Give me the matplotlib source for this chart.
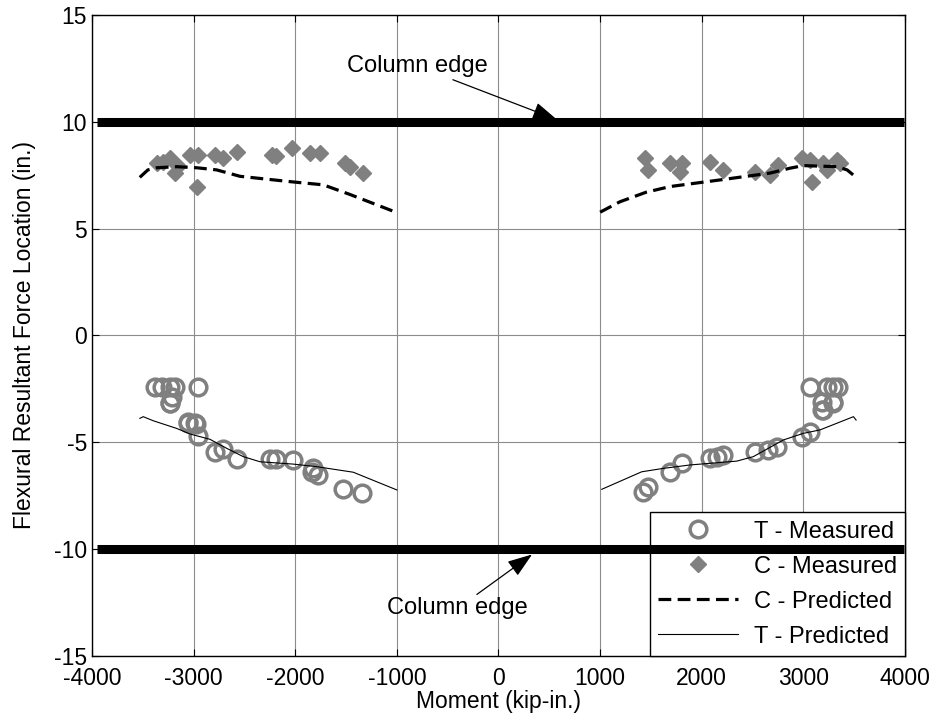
import matplotlib
matplotlib.use('Agg')
import matplotlib.pyplot as plt

plt.rcParams['font.family'] = ['Liberation Sans', 'DejaVu Sans']
plt.rcParams['axes.unicode_minus'] = False

# T - Measured (moment kip-in., location in.)
t_meas_x = [-3380, -3315, -3233, -3184, -3217, -3233, -2955, -3053, -2987, -3233,
            -3053, -2977, -2955, -2790, -2708, -2577, -2249, -2190, -2026, -1823,
            -1839, -1773, -1527, -1347,
            3066, 3230, 3296, 3345, 3181, 3296, 3181, 3197, 3296, 3066,
            2984, 2738, 2656, 2525, 2213, 2148, 2082, 1803, 1688, 1475, 1425]
t_meas_y = [-2.43, -2.43, -2.40, -2.43, -2.86, -3.17, -2.43, -4.03, -4.11, -3.17,
            -4.08, -4.14, -4.70, -5.44, -5.33, -5.80, -5.80, -5.80, -5.83, -6.22,
            -6.38, -6.53, -7.20, -7.39,
            -2.43, -2.43, -2.43, -2.43, -3.10, -3.10, -3.49, -3.49, -3.17, -4.50,
            -4.74, -5.20, -5.36, -5.44, -5.60, -5.67, -5.75, -5.98, -6.38, -7.08, -7.31]

# C - Measured
c_meas_x = [-3364, -3300, -3233, -3184, -3150, -3036, -2955, -2971, -2790, -2708,
            -2577, -2232, -2190, -2035, -1855, -1757, -1511, -1460, -1331,
            1442, 1475, 1688, 1803, 1787, 2082, 2213, 2525, 2672, 2754,
            2984, 3066, 3082, 3197, 3230, 3329, 3361]
c_meas_y = [8.06, 8.10, 8.30, 7.60, 7.95, 8.45, 8.45, 6.97, 8.45, 8.30,
            8.58, 8.45, 8.40, 8.76, 8.53, 8.53, 8.06, 7.90, 7.60,
            8.30, 7.75, 8.06, 8.06, 7.67, 8.14, 7.75, 7.67, 7.50, 7.98,
            8.30, 8.22, 7.20, 8.06, 7.75, 8.22, 8.06]

# C - Predicted (two branches)
c_pred_left_x = [-3530, -3450, -3364, -3167, -2971, -2774, -2544, -2052, -1724, -1462, -1000]
c_pred_left_y = [7.40, 7.75, 7.85, 7.90, 7.85, 7.75, 7.45, 7.20, 7.05, 6.60, 5.75]
c_pred_right_x = [1000, 1196, 1450, 1688, 2180, 2672, 2869, 3000, 3329, 3430, 3520]
c_pred_right_y = [5.77, 6.26, 6.70, 6.97, 7.28, 7.60, 7.83, 7.95, 7.90, 7.75, 7.40]

# T - Predicted (two branches)
t_pred_left_x = [-3529, -3496, -3398, -3167, -3036, -2839, -2675, -2512, -2347, -2020,
                 -1790, -1429, -1000]
t_pred_left_y = [-3.88, -3.80, -3.99, -4.35, -4.61, -4.86, -5.28, -5.67, -5.91, -6.02,
                 -6.14, -6.40, -7.23]
t_pred_right_x = [1016, 1409, 1622, 1885, 2345, 2508, 2803, 3000, 3164, 3493, 3519]
t_pred_right_y = [-7.20, -6.38, -6.22, -6.06, -5.88, -5.67, -4.89, -4.58, -4.42, -3.80, -3.96]

edge_x = [-3950, 3990]
edge_top = [10, 10]
edge_bot = [-10, -10]

fs = 16.5
gray = '#808080'

fig = plt.figure(figsize=(9.35, 7.27), dpi=100)
ax = fig.add_axes([0.0984, 0.0977, 0.8695, 0.8817])

ax.plot(edge_x, edge_top, color='black', linewidth=6.5, zorder=6, solid_capstyle='butt')
ax.plot(edge_x, edge_bot, color='black', linewidth=6.5, zorder=6, solid_capstyle='butt')

ax.plot(t_meas_x, t_meas_y, linestyle='none', marker='o', markersize=12,
        markerfacecolor='none', markeredgecolor=gray, markeredgewidth=2.5,
        label='T - Measured', zorder=3)
ax.plot(c_meas_x, c_meas_y, linestyle='none', marker='D', markersize=8.5,
        color=gray, markeredgecolor=gray, label='C - Measured', zorder=3)
ax.plot(c_pred_left_x, c_pred_left_y, color='black', linestyle=(0, (4, 2)),
        linewidth=2.3, label='C - Predicted', zorder=4)
ax.plot(c_pred_right_x, c_pred_right_y, color='black', linestyle=(0, (4, 2)),
        linewidth=2.3, zorder=4)
ax.plot(t_pred_left_x, t_pred_left_y, color='black', linewidth=0.8,
        label='T - Predicted', zorder=4)
ax.plot(t_pred_right_x, t_pred_right_y, color='black', linewidth=0.8, zorder=4)

arrow = dict(arrowstyle='-|>,head_length=0.9,head_width=0.32',
             color='black', lw=0.9, shrinkA=0, shrinkB=0)
ax.annotate('Column edge', xy=(576, 10.1), xytext=(-110, 12.1),
            fontsize=17, ha='right', va='bottom', arrowprops=arrow, zorder=7)
ax.annotate('Column edge', xy=(330, -10.25), xytext=(-400, -12.25),
            fontsize=17, ha='center', va='top', arrowprops=arrow, zorder=7)

ax.set_xlim(-4000, 4000)
ax.set_ylim(-15, 15)
ax.set_xticks(range(-4000, 4001, 1000))
ax.set_yticks(range(-15, 16, 5))
ax.grid(True, color='#8c8c8c', linewidth=0.8, linestyle='-')
ax.set_axisbelow(True)
ax.tick_params(direction='in', top=True, right=True, labelsize=fs, length=5)
ax.tick_params(axis='x', pad=8)
for s in ax.spines.values():
    s.set_linewidth(1.0)

ax.set_xlabel('Moment (kip-in.)', fontsize=fs, labelpad=0)
ax.set_ylabel('Flexural Resultant Force Location (in.)', fontsize=fs, labelpad=13)

leg = ax.legend(loc='lower right', fontsize=17, fancybox=False, edgecolor='black',
                framealpha=1, borderaxespad=0, handlelength=3.4, labelspacing=0.55,
                handletextpad=0.65, borderpad=0.35)
leg.get_frame().set_linewidth(1.0)
leg.set_zorder(5)

fig.savefig('out.png', dpi=100)
